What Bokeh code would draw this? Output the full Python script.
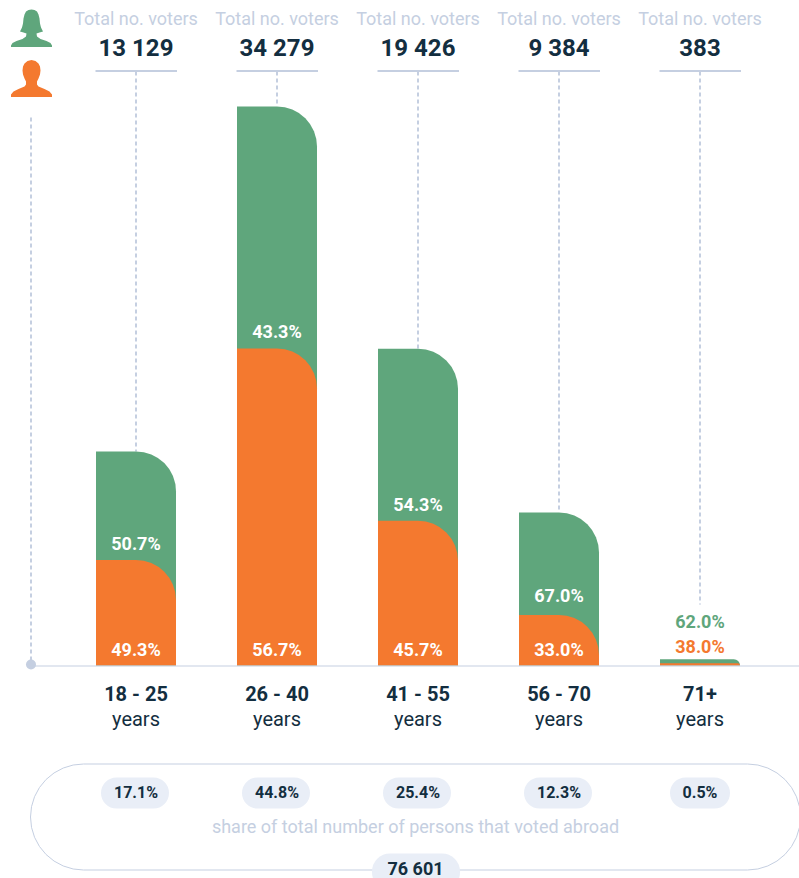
from bokeh.plotting import figure
from bokeh.models import Range1d
from bokeh.embed import file_html
from bokeh.resources import INLINE
from bokeh.core.properties import value

ages = ["18 - 25", "26 - 40", "41 - 55", "56 - 70", "71+"]
totals = [13129, 34279, 19426, 9384, 383]
total_labels = ["13 129", "34 279", "19 426", "9 384", "383"]
female_pct = [50.7, 43.3, 54.3, 67.0, 62.0]
male_pct = [49.3, 56.7, 45.7, 33.0, 38.0]
share_pct = ["17.1%", "44.8%", "25.4%", "12.3%", "0.5%"]
grand_total = "76 601"
caption = "share of total number of persons that voted abroad"

GREEN, ORANGE, DARK, PALE, PILL = "#5fa67c", "#f4792f", "#132e40", "#c5cfe1", "#e9eef7"
FONT = value("Roboto")

PW, PH = 799, 878
# slot centres are 141 px apart, first at x 135.5
x0_page, slot = 135.5, 141
scale = 559 / 34279  # px per voter
base = 665

p = figure(width=PW, height=PH, output_backend="svg", toolbar_location=None,
           min_border=0, outline_line_color=None,
           x_range=Range1d((0 - x0_page) / slot, (PW - x0_page) / slot),
           y_range=Range1d(-(PH - base) / scale, base / scale))
p.extra_x_ranges["px"] = Range1d(0, PW)
p.extra_y_ranges["px"] = Range1d(PH, 0)
p.axis.visible = False
p.grid.visible = False
p.background_fill_color = "white"
p.border_fill_color = "white"

xs = list(range(len(ages)))
male = [t * m / 100 for t, m in zip(totals, male_pct)]
PX = dict(x_range_name="px", y_range_name="px")
Y = dict(y_range_name="px")


def txt(x, y, s, size, color, weight="normal", **kw):
    p.text(x=x, y=y, text=s, text_font=FONT, text_font_size=f"{size}px", text_color=color,
           text_font_style=weight, text_align="center", text_baseline="middle", **kw)


# Reference lines (behind the bars)
page_to_voters = lambda py: (base - py) / scale
drop_end = [t if t > 1000 else page_to_voters(604) for t in totals]
p.segment(x0=xs, x1=xs, y0=[page_to_voters(71)] * 5, y1=drop_end, line_color=PALE, line_width=2, line_dash="4 3")
p.segment(x0=[30.5], x1=[30.5], y0=[117], y1=[664], line_color=PALE, line_width=2, line_dash="4 3", **PX)
p.segment(x0=[95 + slot * i for i in xs], x1=[176.5 + slot * i for i in xs], y0=[70.5] * 5, y1=[70.5] * 5,
          line_color=PALE, line_width=2, **PX)

# Bars
bw = 80 / slot
p.vbar(x=xs, width=bw, bottom=0, top=totals, fill_color=GREEN, line_color=None, border_radius=(0, 40, 0, 0))
p.vbar(x=xs, width=bw, bottom=0, top=male, fill_color=ORANGE, line_color=None, border_radius=(0, 40, 0, 0))

# Baseline
p.segment(x0=[30], x1=[799], y0=[665.5], y1=[665.5], line_color=PALE, line_width=1.2, **PX)
p.scatter(x=[30.5], y=[664], size=10, fill_color=PALE, line_color=None, **PX)

# Header
txt(xs, [18] * 5, ["Total no. voters"] * 5, 18, PALE, **Y)
txt(xs, [47] * 5, total_labels, 24, DARK, "bold", **Y)

# Percent labels
txt(xs[:4], [543, 331, 504, 595], [f"{v:.1f}%" for v in female_pct[:4]], 18, "white", "bold", **Y)
txt(xs[:4], [649] * 4, [f"{v:.1f}%" for v in male_pct[:4]], 18, "white", "bold", **Y)
txt([4], [621], [f"{female_pct[4]:.1f}%"], 18, GREEN, "bold", **Y)
txt([4], [646], [f"{male_pct[4]:.1f}%"], 18, ORANGE, "bold", **Y)

# Age labels
txt(xs, [693] * 5, ages, 20, DARK, "bold", **Y)
txt(xs, [718] * 5, ["years"] * 5, 20, DARK, **Y)

# Bottom capsule
p.quad(left=[30], right=[800], top=[763.5], bottom=[869.5], fill_color=None, line_color=PALE, line_width=1,
       border_radius=53, **PX)
lefts = [100.5, 241.5, 382.5, 523.5, 669.5]
rights = [168.5, 309.5, 450.5, 591.5, 729.5]
p.quad(left=lefts, right=rights, top=[777] * 5, bottom=[808] * 5, fill_color=PILL, line_color=None,
       border_radius=16, **PX)
txt(xs, [792] * 5, share_pct, 16, DARK, "bold", **Y)
txt([415], [826], [caption], 18, PALE, **PX)
p.quad(left=[371.5], right=[459.5], top=[853], bottom=[890], fill_color=PILL, line_color=None, border_radius=18, **PX)
txt([415], [868], [grand_total], 18, DARK, "bold", **PX)

# Person icons
female_x = [31, 34, 36.5, 38, 39, 39.5, 40.5, 42.5, 39, 36, 36.5, 40, 46, 50, 51.5, 51.5, 10.5, 10.5, 12, 16, 22, 25.5, 26, 23, 19.5, 21.5, 22.5, 23, 24, 25.5, 28]
female_y = [9, 9.6, 11, 14, 18, 23, 27, 31, 32, 33, 36, 38.5, 40.5, 42.5, 45, 46.5, 46.5, 45, 42.5, 40.5, 38.5, 36, 33, 32, 31, 27, 23, 18, 14, 11, 9.6]
male_x = [31, 35, 38, 39.5, 40, 39.5, 38, 36.5, 36.5, 38, 44, 49, 51.5, 51.5, 10.5, 10.5, 13, 18, 24, 25.5, 25.5, 24, 22.5, 22, 22.5, 24, 27]
male_y = [59.5, 60.5, 63, 66, 70, 74, 78, 81, 84, 86, 88.5, 91, 94, 96.5, 96.5, 94, 91, 88.5, 86, 84, 81, 78, 74, 70, 66, 63, 60.5]
p.patch(x=female_x, y=female_y, fill_color=GREEN, line_color=None, **PX)
p.patch(x=male_x, y=male_y, fill_color=ORANGE, line_color=None, **PX)

open("out.html", "w").write(file_html(p, INLINE))
